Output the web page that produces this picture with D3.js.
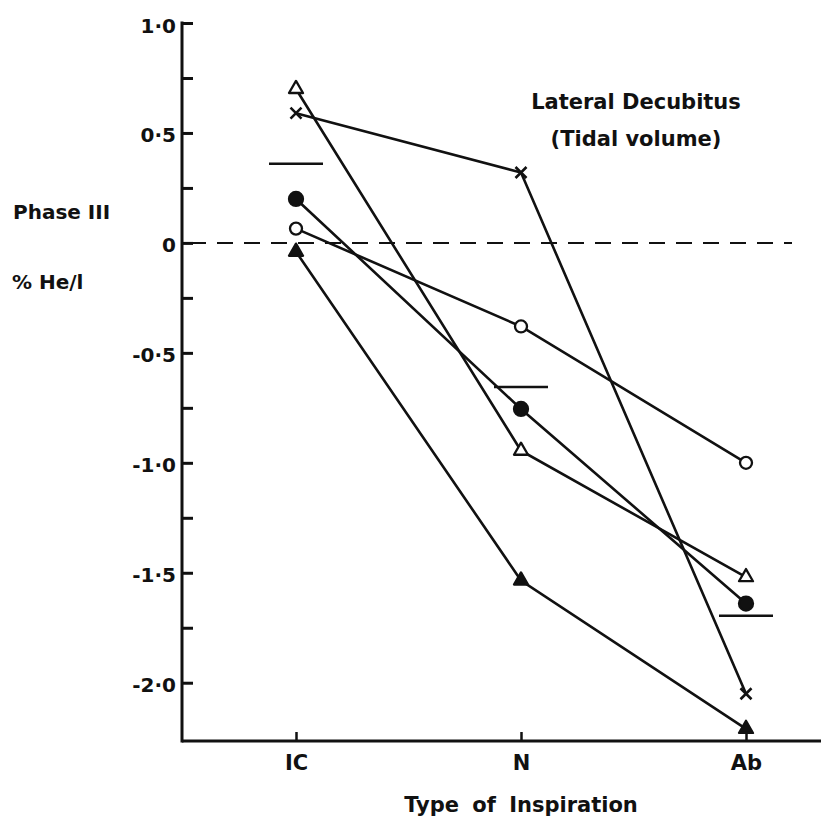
<!DOCTYPE html>
<html>
<head>
<meta charset="utf-8">
<script src="https://cdn.jsdelivr.net/npm/d3@7"></script>
<style>
  html, body { margin: 0; padding: 0; background: #fff; }
  svg text { font-family: "DejaVu Sans", sans-serif; font-weight: bold; fill: #111; }
</style>
</head>
<body>
<svg width="821" height="822"></svg>
<script>
// categories on the x axis
const categories = ["IC", "N", "Ab"];

// one array per subject
const openTriangle = [0.70, -0.945, -1.52];
const crossSeries = [0.59, 0.32, -2.05];
const filledCircle = [0.20, -0.755, -1.64];
const openCircle = [0.065, -0.38, -1.00];
const filledTriangle = [-0.04, -1.535, -2.21];

// mean bars for each category
const means = [0.36, -0.655, -1.695];

// y axis ticks
const yMajorTicks = [1.0, 0.5, 0, -0.5, -1.0, -1.5, -2.0];
const yTickLabels = ["1·0", "0·5", "0", "-0·5", "-1·0", "-1·5", "-2·0"];
const yMinorTicks = [0.75, 0.25, -0.25, -0.75, -1.25, -1.75];

const series = [
  { name: "openTriangle", values: openTriangle, marker: "triangle", filled: false },
  { name: "cross", values: crossSeries, marker: "cross", filled: false },
  { name: "filledCircle", values: filledCircle, marker: "circle", filled: true },
  { name: "openCircle", values: openCircle, marker: "circle", filled: false },
  { name: "filledTriangle", values: filledTriangle, marker: "triangle", filled: true }
];

const svg = d3.select("svg");
const axisX0 = 182, axisX1 = 821;

const x = d3.scalePoint()
  .domain(categories)
  .range([296, 746]);

const y = d3.scaleLinear()
  .domain([-2.265, 1.0])
  .range([741, 23]);

// y axis: ticks point inward, labels on the left
const yAxis = svg.append("g")
  .attr("transform", `translate(${axisX0},0)`)
  .call(d3.axisLeft(y)
    .tickValues(yMajorTicks.concat(yMinorTicks))
    .tickSizeInner(-11)
    .tickSizeOuter(0)
    .tickPadding(6)
    .tickFormat(d => {
      const i = yMajorTicks.indexOf(d);
      return i >= 0 ? yTickLabels[i] : "";
    }));
yAxis.select(".domain").remove();
yAxis.selectAll(".tick line").attr("stroke", "#111").attr("stroke-width", 3);
yAxis.selectAll(".tick text").style("font-size", "20px").attr("dy", "0.45em");

// axis lines
svg.append("line")
  .attr("x1", axisX0).attr("x2", axisX0)
  .attr("y1", y(1.0) - 1.5).attr("y2", y.range()[0] + 1.5)
  .attr("stroke", "#111").attr("stroke-width", 3);
svg.append("line")
  .attr("x1", axisX0).attr("x2", axisX1)
  .attr("y1", y.range()[0]).attr("y2", y.range()[0])
  .attr("stroke", "#111").attr("stroke-width", 3);

// x axis ticks and labels
const xAxis = svg.append("g")
  .attr("transform", `translate(0,${y.range()[0]})`)
  .call(d3.axisBottom(x).tickSizeInner(-9).tickSizeOuter(0).tickPadding(14));
xAxis.select(".domain").remove();
xAxis.selectAll(".tick line").attr("stroke", "#111").attr("stroke-width", 2.5);
xAxis.selectAll(".tick text").style("font-size", "21px");

// zero line (dashed)
svg.append("line")
  .attr("x1", axisX0 + 8).attr("x2", 792)
  .attr("y1", y(0)).attr("y2", y(0))
  .attr("stroke", "#111").attr("stroke-width", 2)
  .attr("stroke-dasharray", "16,11");

// mean bars
svg.append("g").selectAll("line")
  .data(means)
  .join("line")
  .attr("x1", (d, i) => x(categories[i]) - 27)
  .attr("x2", (d, i) => x(categories[i]) + 27)
  .attr("y1", d => y(d)).attr("y2", d => y(d))
  .attr("stroke", "#111").attr("stroke-width", 2.5);

// lines for each subject
const line = d3.line()
  .x((d, i) => x(categories[i]))
  .y(d => y(d));

svg.append("g").selectAll("path")
  .data(series)
  .join("path")
  .attr("d", d => line(d.values))
  .attr("fill", "none")
  .attr("stroke", "#111")
  .attr("stroke-width", 2.6);

// markers
const triangle = d3.symbol().type(d3.symbolTriangle).size(85);
series.forEach(s => {
  const g = svg.append("g");
  s.values.forEach((v, i) => {
    const cx = x(categories[i]), cy = y(v);
    if (s.marker === "circle") {
      g.append("circle")
        .attr("cx", cx).attr("cy", cy)
        .attr("r", s.filled ? 7 : 6)
        .attr("fill", s.filled ? "#111" : "#fff")
        .attr("stroke", "#111").attr("stroke-width", 2.3);
    } else if (s.marker === "triangle") {
      g.append("path")
        .attr("transform", `translate(${cx},${cy})`)
        .attr("d", triangle())
        .attr("fill", s.filled ? "#111" : "#fff")
        .attr("stroke", "#111").attr("stroke-width", 2.3)
        .attr("stroke-linejoin", "round");
    } else {
      const r = 5.5;
      g.append("path")
        .attr("d", `M${cx - r},${cy - r}L${cx + r},${cy + r}M${cx - r},${cy + r}L${cx + r},${cy - r}`)
        .attr("stroke", "#111").attr("stroke-width", 2.6);
    }
  });
});

// y axis label
svg.append("text").attr("x", 13).attr("y", 219).style("font-size", "20px").text("Phase III");
svg.append("text").attr("x", 12).attr("y", 289).style("font-size", "20px").text("% He/l");

// x axis title
svg.append("text")
  .attr("x", x("N")).attr("y", 812)
  .attr("text-anchor", "middle")
  .style("font-size", "21px")
  .style("word-spacing", "6px")
  .text("Type of Inspiration");

// chart title
svg.append("text")
  .attr("x", 636).attr("y", 109)
  .attr("text-anchor", "middle")
  .style("font-size", "21px")
  .text("Lateral Decubitus");
svg.append("text")
  .attr("x", 636).attr("y", 146)
  .attr("text-anchor", "middle")
  .style("font-size", "21px")
  .text("(Tidal volume)");
</script>
</body>
</html>
